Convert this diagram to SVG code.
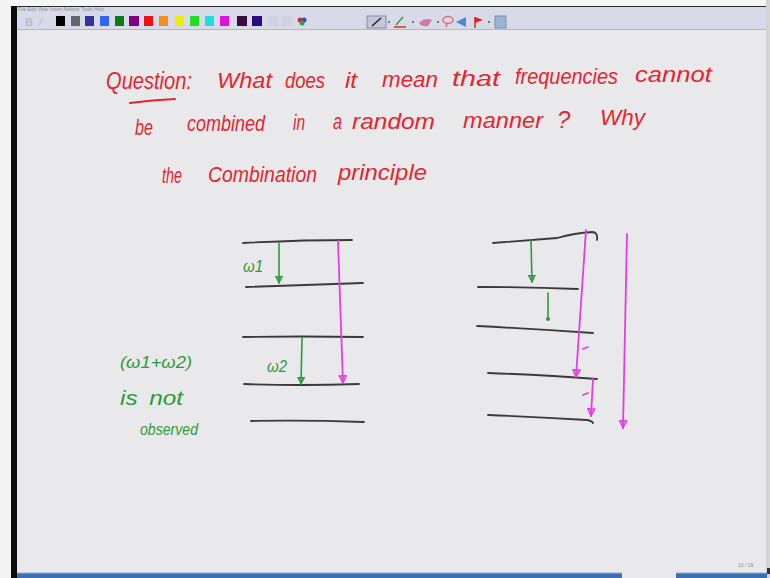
<svg xmlns="http://www.w3.org/2000/svg" width="770" height="578" viewBox="0 0 770 578">
<style>
.hw{font-family:"Liberation Sans","DejaVu Sans",sans-serif;font-style:italic;fill:#e3262f}
.gw{font-family:"Liberation Sans","DejaVu Sans",sans-serif;font-style:italic;fill:#2f9a3b}
.lvl{fill:none;stroke:#3a3a3a;stroke-width:1.8;stroke-linecap:round}
.ga{fill:none;stroke:#2f9a3b;stroke-width:1.6;stroke-linecap:round}
.ma{fill:none;stroke:#e23ee2;stroke-width:1.8;stroke-linecap:round}
.sw{stroke:none}
</style>
<defs>
<marker id="hg" viewBox="0 0 10 10" refX="9" refY="5" markerWidth="8" markerHeight="8" markerUnits="userSpaceOnUse" orient="auto">
<path d="M1,1 L9,5 L1,9 z" fill="#2f9a3b" fill-opacity="0.6" stroke="#2f9a3b" stroke-width="1.5"/>
</marker>
<marker id="hm" viewBox="0 0 10 10" refX="9" refY="5" markerWidth="9" markerHeight="9" markerUnits="userSpaceOnUse" orient="auto">
<path d="M1,1 L9,5 L1,9 z" fill="#e23ee2" fill-opacity="0.5" stroke="#e23ee2" stroke-width="1.5"/>
</marker>
</defs>

<!-- window chrome -->
<rect x="0" y="0" width="770" height="578" fill="#e9e9ec"/>
<rect x="0" y="0" width="770" height="7" fill="#f6f6f6"/>
<rect x="0" y="6" width="770" height="1.2" fill="#2c2c2c"/>
<rect x="0" y="7" width="766" height="22" fill="#d9dae7"/>
<rect x="0" y="29" width="766" height="1" fill="#b4b6c6"/>
<text x="18" y="11" font-family="Liberation Sans,sans-serif" font-size="5" fill="#8c8c9c">File  Edit  View  Insert  Actions  Tools  Help</text>
<rect x="0" y="0" width="11" height="578" fill="#f4f4f4"/>
<rect x="11" y="6" width="6" height="572" fill="#0c0c0c"/>
<rect x="766" y="0" width="4" height="578" fill="#d4d4d8"/>
<rect x="767" y="568" width="3" height="6" fill="#333"/>

<!-- toolbar -->
<g id="toolbar">
<text x="25" y="26" font-family="Liberation Sans,sans-serif" font-size="11" font-weight="bold" fill="#b6b9cb">B</text>
<text x="39" y="26" font-family="Liberation Sans,sans-serif" font-size="11" font-style="italic" fill="#b6b9cb">/</text>
<rect class="sw" x="56" y="16" width="9" height="10" fill="#000"/>
<rect class="sw" x="71" y="16" width="9" height="10" fill="#666"/>
<rect class="sw" x="85" y="16" width="9" height="10" fill="#333399"/>
<rect class="sw" x="100" y="16" width="9" height="10" fill="#3366ee"/>
<rect class="sw" x="115" y="16" width="9" height="10" fill="#0a7a14"/>
<rect class="sw" x="129" y="16" width="10" height="10" fill="#800080"/>
<rect class="sw" x="144" y="16" width="9" height="10" fill="#ee1111"/>
<rect class="sw" x="159" y="16" width="9" height="10" fill="#f09020"/>
<rect class="sw" x="175" y="16" width="9" height="10" fill="#eeee00"/>
<rect class="sw" x="190" y="16" width="9" height="10" fill="#22dd22"/>
<rect class="sw" x="205" y="16" width="9" height="10" fill="#22dddd"/>
<rect class="sw" x="220" y="16" width="9" height="10" fill="#e010e0"/>
<rect class="sw" x="237" y="16" width="10" height="10" fill="#3a0a40"/>
<rect class="sw" x="252" y="16" width="10" height="10" fill="#2a0a80"/>
<rect class="sw" x="268" y="16" width="10" height="10" fill="#d0d2e2"/>
<rect class="sw" x="282" y="16" width="10" height="10" fill="#d0d2e2"/>
<circle cx="300" cy="20" r="2.5" fill="#d03030"/>
<circle cx="304" cy="20" r="2.5" fill="#3050c0"/>
<circle cx="302" cy="23" r="2.5" fill="#30a040"/>
<rect x="367" y="16" width="19" height="12" fill="#c4c6dc" stroke="#8a8ca8" stroke-width="1"/>
<line x1="372" y1="26" x2="381" y2="18" stroke="#222" stroke-width="1.5"/>
<circle cx="389" cy="22" r="1" fill="#555"/>
<line x1="396" y1="25" x2="403" y2="17" stroke="#40a040" stroke-width="1.5"/>
<line x1="394" y1="27" x2="406" y2="27" stroke="#e03030" stroke-width="1.5"/>
<circle cx="413" cy="22" r="1" fill="#555"/>
<path d="M419,23 Q425,17 432,20 L428,26 Q422,27 419,23 z" fill="#d07aa0"/>
<circle cx="438" cy="22" r="1" fill="#555"/>
<ellipse cx="448" cy="20" rx="5" ry="3.5" fill="none" stroke="#e07070" stroke-width="1.5"/>
<line x1="447" y1="23" x2="446" y2="27" stroke="#e07070" stroke-width="1.5"/>
<path d="M456,22 L466,17 L466,27 z" fill="#4a8ad8"/>
<line x1="475" y1="17" x2="475" y2="28" stroke="#e02020" stroke-width="1.5"/>
<path d="M475,17 L483,20 L475,23 z" fill="#e02020"/>
<circle cx="489" cy="22" r="1" fill="#555"/>
<rect x="495" y="16" width="11" height="12" fill="#9ab4d4" stroke="#7890b0" stroke-width="1"/>
</g>

<!-- bottom bar -->
<rect x="17" y="573" width="605" height="5" fill="#3d6fae"/>
<rect x="676" y="573" width="91" height="5" fill="#3d6fae"/>
<rect x="17" y="572.5" width="605" height="1" fill="#8fb0da"/>
<rect x="676" y="572.5" width="91" height="1" fill="#8fb0da"/>
<text x="738" y="567" font-family="Liberation Sans,sans-serif" font-size="5" fill="#8a8a8a">10 / 29</text>

<!-- question text -->
<g id="question">
<text class="hw" x="106" y="89" font-size="23" textLength="86" lengthAdjust="spacingAndGlyphs">Question:</text>
<path d="M130,103 Q152,100 175,99" fill="none" stroke="#e3262f" stroke-width="2" stroke-linecap="round"/>
<text class="hw" x="217" y="88" font-size="22" textLength="55" lengthAdjust="spacingAndGlyphs">What</text>
<text class="hw" x="285" y="88" font-size="22" textLength="40" lengthAdjust="spacingAndGlyphs">does</text>
<text class="hw" x="345" y="88" font-size="22" textLength="12" lengthAdjust="spacingAndGlyphs">it</text>
<text class="hw" x="382" y="87" font-size="22" textLength="56" lengthAdjust="spacingAndGlyphs">mean</text>
<text class="hw" x="452" y="86" font-size="22" textLength="48" lengthAdjust="spacingAndGlyphs">that</text>
<text class="hw" x="515" y="84" font-size="22" textLength="103" lengthAdjust="spacingAndGlyphs">frequencies</text>
<text class="hw" x="635" y="82" font-size="22" textLength="77" lengthAdjust="spacingAndGlyphs">cannot</text>

<text class="hw" x="135" y="135" font-size="22" textLength="18" lengthAdjust="spacingAndGlyphs">be</text>
<text class="hw" x="187" y="131" font-size="22" textLength="78" lengthAdjust="spacingAndGlyphs">combined</text>
<text class="hw" x="293" y="130" font-size="22" textLength="12" lengthAdjust="spacingAndGlyphs">in</text>
<text class="hw" x="333" y="129" font-size="22" textLength="9" lengthAdjust="spacingAndGlyphs">a</text>
<text class="hw" x="352" y="129" font-size="22" textLength="83" lengthAdjust="spacingAndGlyphs">random</text>
<text class="hw" x="463" y="128" font-size="22" textLength="80" lengthAdjust="spacingAndGlyphs">manner</text>
<text class="hw" x="557" y="128" font-size="24">?</text>
<text class="hw" x="600" y="125" font-size="22" textLength="45" lengthAdjust="spacingAndGlyphs">Why</text>

<text class="hw" x="162" y="183" font-size="22" textLength="20" lengthAdjust="spacingAndGlyphs">the</text>
<text class="hw" x="208" y="182" font-size="22" textLength="109" lengthAdjust="spacingAndGlyphs">Combination</text>
<text class="hw" x="338" y="180" font-size="22" textLength="89" lengthAdjust="spacingAndGlyphs">principle</text>
</g>

<!-- left energy levels -->
<g id="left-levels">
<path class="lvl" d="M243,243 Q300,240 352,240"/>
<path class="lvl" d="M246,287 Q305,285 363,283"/>
<path class="lvl" d="M243,337 Q300,336 363,337"/>
<path class="lvl" d="M244,384 Q300,386 359,384"/>
<path class="lvl" d="M251,421 Q305,420 364,422"/>
</g>

<!-- right energy levels -->
<g id="right-levels">
<path class="lvl" d="M493,243 L557,238 Q575,233 592,232 Q598,232 597,240"/>
<path class="lvl" d="M478,287 Q530,287 578,289"/>
<path class="lvl" d="M477,326 Q535,329 593,333"/>
<path class="lvl" d="M488,373 Q545,375 597,379"/>
<path class="lvl" d="M488,415 Q540,417 587,420 Q592,421 593,423"/>
</g>

<!-- connectors -->
<g id="connectors">
<path class="ga" d="M279,243 L279,283" marker-end="url(#hg)"/>
<path class="ga" d="M302,338 L301,384" marker-end="url(#hg)"/>
<path class="ma" d="M338,241 L343,383" marker-end="url(#hm)"/>
<path class="ga" d="M531,240 L532,282" marker-end="url(#hg)"/>
<path class="ga" d="M548,293 L548,318"/>
<circle cx="548" cy="319" r="2" fill="#2f9a3b"/>
<path class="ma" d="M586,230 L576,377" marker-end="url(#hm)"/>
<path class="ma" d="M583,349 L588,347"/>
<path class="ma" d="M583,395 L588,393"/>
<path class="ma" d="M593,379 L591,416" marker-end="url(#hm)"/>
<path class="ma" d="M627,234 L623,428" marker-end="url(#hm)"/>
</g>

<!-- green labels -->
<g id="labels">
<text class="gw" x="243" y="272" font-size="16" textLength="20" lengthAdjust="spacingAndGlyphs">ω1</text>
<text class="gw" x="267" y="372" font-size="16" textLength="20" lengthAdjust="spacingAndGlyphs">ω2</text>
<text class="gw" x="120" y="368" font-size="17" textLength="72" lengthAdjust="spacingAndGlyphs">(ω1+ω2)</text>
<text class="gw" x="120" y="405" font-size="20" word-spacing="4" textLength="63" lengthAdjust="spacingAndGlyphs">is not</text>
<text class="gw" x="140" y="435" font-size="17" textLength="58" lengthAdjust="spacingAndGlyphs">observed</text>
</g>
</svg>
